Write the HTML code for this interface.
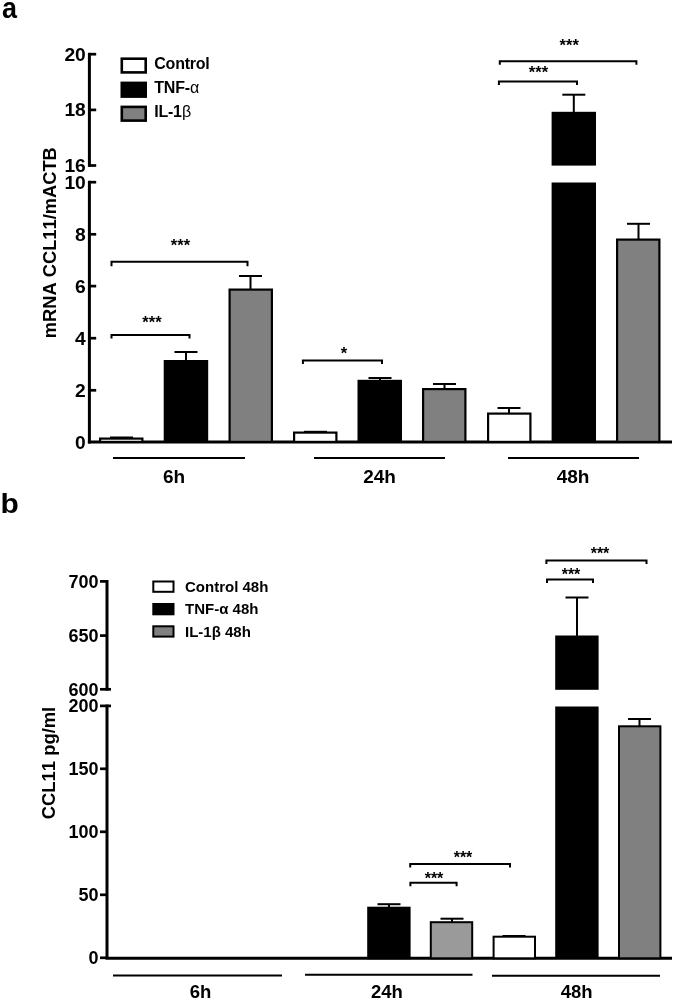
<!DOCTYPE html>
<html><head><meta charset="utf-8"><title>Figure</title>
<style>html,body{margin:0;padding:0;background:#fff;}svg{display:block;filter:grayscale(1) blur(0.3px);}text{font-kerning:none;}</style></head>
<body><svg width="675" height="1001" viewBox="0 0 675 1001">
<rect width="675" height="1001" fill="#fff"/>
<text transform="translate(2.0,18) scale(0.93,1)" font-size="29" font-family="Liberation Sans, sans-serif" font-weight="bold">a</text>
<line x1="89.4" y1="52.8" x2="89.4" y2="166.9" stroke="#000" stroke-width="3"/>
<line x1="89.4" y1="180.8" x2="89.4" y2="443.4" stroke="#000" stroke-width="3"/>
<line x1="89.4" y1="54.2" x2="96.2" y2="54.2" stroke="#000" stroke-width="2.7"/>
<text transform="translate(85.8,60.7) scale(1.07,1)" font-size="18" text-anchor="end" font-family="Liberation Sans, sans-serif" font-weight="bold">20</text>
<line x1="89.4" y1="109.9" x2="96.2" y2="109.9" stroke="#000" stroke-width="2.7"/>
<text transform="translate(85.8,116.4) scale(1.07,1)" font-size="18" text-anchor="end" font-family="Liberation Sans, sans-serif" font-weight="bold">18</text>
<line x1="89.4" y1="165.5" x2="96.2" y2="165.5" stroke="#000" stroke-width="2.7"/>
<text transform="translate(85.8,172.0) scale(1.07,1)" font-size="18" text-anchor="end" font-family="Liberation Sans, sans-serif" font-weight="bold">16</text>
<line x1="89.4" y1="182.2" x2="96.2" y2="182.2" stroke="#000" stroke-width="2.7"/>
<text transform="translate(85.8,188.7) scale(1.07,1)" font-size="18" text-anchor="end" font-family="Liberation Sans, sans-serif" font-weight="bold">10</text>
<line x1="89.4" y1="234.3" x2="96.2" y2="234.3" stroke="#000" stroke-width="2.7"/>
<text transform="translate(85.8,240.8) scale(1.07,1)" font-size="18" text-anchor="end" font-family="Liberation Sans, sans-serif" font-weight="bold">8</text>
<line x1="89.4" y1="286.1" x2="96.2" y2="286.1" stroke="#000" stroke-width="2.7"/>
<text transform="translate(85.8,292.6) scale(1.07,1)" font-size="18" text-anchor="end" font-family="Liberation Sans, sans-serif" font-weight="bold">6</text>
<line x1="89.4" y1="338.2" x2="96.2" y2="338.2" stroke="#000" stroke-width="2.7"/>
<text transform="translate(85.8,344.7) scale(1.07,1)" font-size="18" text-anchor="end" font-family="Liberation Sans, sans-serif" font-weight="bold">4</text>
<line x1="89.4" y1="390.3" x2="96.2" y2="390.3" stroke="#000" stroke-width="2.7"/>
<text transform="translate(85.8,396.8) scale(1.07,1)" font-size="18" text-anchor="end" font-family="Liberation Sans, sans-serif" font-weight="bold">2</text>
<text transform="translate(85.8,448.7) scale(1.07,1)" font-size="18" text-anchor="end" font-family="Liberation Sans, sans-serif" font-weight="bold">0</text>
<line x1="87.9" y1="442" x2="672" y2="442" stroke="#000" stroke-width="3"/>
<text transform="translate(56.2,242.7) rotate(-90)" font-size="18.3" text-anchor="middle" font-family="Liberation Sans, sans-serif" font-weight="bold">mRNA CCL11/mACTB</text>
<rect x="121.80" y="58.70" width="23.90" height="13.70" fill="#fff" stroke="#000" stroke-width="2.6"/>
<text x="154.3" y="69.0" font-size="16" style="letter-spacing:-0.25px" font-family="Liberation Sans, sans-serif" font-weight="bold">Control<tspan font-weight="normal" font-size="16" dx="0.2"></tspan></text>
<rect x="121.80" y="82.90" width="23.90" height="13.70" fill="#000" stroke="#000" stroke-width="2.6"/>
<text x="154.3" y="93.2" font-size="16" style="letter-spacing:-0.25px" font-family="Liberation Sans, sans-serif" font-weight="bold">TNF-<tspan font-weight="normal" font-size="16" dx="0.2">α</tspan></text>
<rect x="121.80" y="106.90" width="23.90" height="13.70" fill="#808080" stroke="#000" stroke-width="2.6"/>
<text x="154.3" y="117.2" font-size="16" style="letter-spacing:-0.25px" font-family="Liberation Sans, sans-serif" font-weight="bold">IL-1<tspan font-weight="normal" font-size="16" dx="0.2">β</tspan></text>
<line x1="186" y1="352" x2="186" y2="361" stroke="#000" stroke-width="2"/>
<line x1="174.5" y1="352" x2="197.5" y2="352" stroke="#000" stroke-width="2"/>
<line x1="250.5" y1="276" x2="250.5" y2="289.5" stroke="#000" stroke-width="2"/>
<line x1="239.0" y1="276" x2="262.0" y2="276" stroke="#000" stroke-width="2"/>
<line x1="380" y1="378" x2="380" y2="380.8" stroke="#000" stroke-width="2"/>
<line x1="368.5" y1="378" x2="391.5" y2="378" stroke="#000" stroke-width="2"/>
<line x1="444.5" y1="384" x2="444.5" y2="389" stroke="#000" stroke-width="2"/>
<line x1="433.0" y1="384" x2="456.0" y2="384" stroke="#000" stroke-width="2"/>
<line x1="509" y1="408" x2="509" y2="413.5" stroke="#000" stroke-width="2"/>
<line x1="497.5" y1="408" x2="520.5" y2="408" stroke="#000" stroke-width="2"/>
<line x1="121.5" y1="437.5" x2="121.5" y2="438.5" stroke="#000" stroke-width="2"/>
<line x1="110.0" y1="437.5" x2="133.0" y2="437.5" stroke="#000" stroke-width="2"/>
<line x1="315.5" y1="431.8" x2="315.5" y2="432.5" stroke="#000" stroke-width="2"/>
<line x1="304.0" y1="431.8" x2="327.0" y2="431.8" stroke="#000" stroke-width="2"/>
<line x1="573.8" y1="94.7" x2="573.8" y2="112" stroke="#000" stroke-width="2"/>
<line x1="562.3" y1="94.7" x2="585.3" y2="94.7" stroke="#000" stroke-width="2"/>
<line x1="638.5" y1="223.8" x2="638.5" y2="239.5" stroke="#000" stroke-width="2"/>
<line x1="627.0" y1="223.8" x2="650.0" y2="223.8" stroke="#000" stroke-width="2"/>
<rect x="100.10" y="438.60" width="42.30" height="3.30" fill="#fff" stroke="#000" stroke-width="2.2"/>
<rect x="164.80" y="361.10" width="42.30" height="80.80" fill="#000" stroke="#000" stroke-width="2.2"/>
<rect x="229.60" y="289.60" width="42.30" height="152.30" fill="#808080" stroke="#000" stroke-width="2.2"/>
<rect x="294.10" y="432.60" width="42.30" height="9.30" fill="#fff" stroke="#000" stroke-width="2.2"/>
<rect x="358.60" y="380.90" width="42.30" height="61.00" fill="#000" stroke="#000" stroke-width="2.2"/>
<rect x="423.10" y="389.10" width="42.30" height="52.80" fill="#808080" stroke="#000" stroke-width="2.2"/>
<rect x="488.10" y="413.60" width="42.30" height="28.30" fill="#fff" stroke="#000" stroke-width="2.2"/>
<rect x="617.10" y="239.60" width="42.30" height="202.30" fill="#808080" stroke="#000" stroke-width="2.2"/>
<rect x="551.6" y="111.8" width="44.4" height="53.8" fill="#000"/>
<rect x="551.6" y="182.5" width="44.4" height="260" fill="#000"/>
<path d="M499.8 64.8V61.3H636.4V64.8" fill="none" stroke="#000" stroke-width="2"/>
<text x="569.2" y="51.4" font-size="16.5" text-anchor="middle" font-family="Liberation Sans, sans-serif" font-weight="bold">***</text>
<path d="M498.9 84.9V81.4H577V84.9" fill="none" stroke="#000" stroke-width="2"/>
<text x="538.5" y="78.2" font-size="16.5" text-anchor="middle" font-family="Liberation Sans, sans-serif" font-weight="bold">***</text>
<path d="M111.5 266.2V261.7H247.5V266.2" fill="none" stroke="#000" stroke-width="2"/>
<text x="180.5" y="251.3" font-size="16.5" text-anchor="middle" font-family="Liberation Sans, sans-serif" font-weight="bold">***</text>
<path d="M111.5 338.5V335H189.5V338.5" fill="none" stroke="#000" stroke-width="2"/>
<text x="152" y="328" font-size="16.5" text-anchor="middle" font-family="Liberation Sans, sans-serif" font-weight="bold">***</text>
<path d="M302.9 364.0V360.5H382V364.0" fill="none" stroke="#000" stroke-width="2"/>
<text x="344" y="358.8" font-size="16.5" text-anchor="middle" font-family="Liberation Sans, sans-serif" font-weight="bold">*</text>
<line x1="113" y1="458" x2="245" y2="458" stroke="#000" stroke-width="2.1"/>
<text x="174" y="482.5" font-size="19" text-anchor="middle" font-family="Liberation Sans, sans-serif" font-weight="bold" >6h</text>
<line x1="314" y1="458" x2="445" y2="458" stroke="#000" stroke-width="2.1"/>
<text x="379.5" y="482.5" font-size="19" text-anchor="middle" font-family="Liberation Sans, sans-serif" font-weight="bold" >24h</text>
<line x1="508" y1="458" x2="639" y2="458" stroke="#000" stroke-width="2.1"/>
<text x="573" y="482.5" font-size="19" text-anchor="middle" font-family="Liberation Sans, sans-serif" font-weight="bold" >48h</text>
<text transform="translate(0.4,513) scale(1.07,1)" font-size="28" font-family="Liberation Sans, sans-serif" font-weight="bold">b</text>
<line x1="107" y1="580" x2="107" y2="690.6" stroke="#000" stroke-width="3"/>
<line x1="107" y1="704.6" x2="107" y2="959" stroke="#000" stroke-width="3"/>
<line x1="100" y1="581.4" x2="107" y2="581.4" stroke="#000" stroke-width="2.7"/>
<text x="98.5" y="587.9" font-size="18" text-anchor="end" font-family="Liberation Sans, sans-serif" font-weight="bold" >700</text>
<line x1="100" y1="635.6" x2="107" y2="635.6" stroke="#000" stroke-width="2.7"/>
<text x="98.5" y="642.1" font-size="18" text-anchor="end" font-family="Liberation Sans, sans-serif" font-weight="bold" >650</text>
<line x1="100" y1="689.3" x2="111" y2="689.3" stroke="#000" stroke-width="2.7"/>
<text x="98.5" y="695.8" font-size="18" text-anchor="end" font-family="Liberation Sans, sans-serif" font-weight="bold" >600</text>
<line x1="100" y1="705.9" x2="111" y2="705.9" stroke="#000" stroke-width="2.7"/>
<text x="98.5" y="712.1999999999999" font-size="18" text-anchor="end" font-family="Liberation Sans, sans-serif" font-weight="bold" >200</text>
<line x1="100" y1="768.8" x2="107" y2="768.8" stroke="#000" stroke-width="2.7"/>
<text x="98.5" y="775.0999999999999" font-size="18" text-anchor="end" font-family="Liberation Sans, sans-serif" font-weight="bold" >150</text>
<line x1="100" y1="831.8" x2="107" y2="831.8" stroke="#000" stroke-width="2.7"/>
<text x="98.5" y="838.0999999999999" font-size="18" text-anchor="end" font-family="Liberation Sans, sans-serif" font-weight="bold" >100</text>
<line x1="100" y1="894.8" x2="107" y2="894.8" stroke="#000" stroke-width="2.7"/>
<text x="98.5" y="901.0999999999999" font-size="18" text-anchor="end" font-family="Liberation Sans, sans-serif" font-weight="bold" >50</text>
<line x1="100" y1="957.8" x2="107" y2="957.8" stroke="#000" stroke-width="2.7"/>
<text x="98.5" y="964.0999999999999" font-size="18" text-anchor="end" font-family="Liberation Sans, sans-serif" font-weight="bold" >0</text>
<line x1="105.5" y1="958.3" x2="672" y2="958.3" stroke="#000" stroke-width="3"/>
<text transform="translate(54.8,763) rotate(-90)" font-size="18.4" text-anchor="middle" font-family="Liberation Sans, sans-serif" font-weight="bold">CCL11 pg/ml</text>
<rect x="153.30" y="581.50" width="20.20" height="10.30" fill="#fff" stroke="#000" stroke-width="2"/>
<text x="185" y="591.8" font-size="15" text-anchor="start" font-family="Liberation Sans, sans-serif" font-weight="bold" >Control 48h</text>
<rect x="153.30" y="604.00" width="20.20" height="10.30" fill="#000" stroke="#000" stroke-width="2"/>
<text x="185" y="614.3" font-size="15" text-anchor="start" font-family="Liberation Sans, sans-serif" font-weight="bold" >TNF-α 48h</text>
<rect x="153.30" y="626.30" width="20.20" height="10.30" fill="#808080" stroke="#000" stroke-width="2"/>
<text x="185" y="636.5999999999999" font-size="15" text-anchor="start" font-family="Liberation Sans, sans-serif" font-weight="bold" >IL-1β 48h</text>
<line x1="389" y1="904.2" x2="389" y2="907.7" stroke="#000" stroke-width="2"/>
<line x1="377.5" y1="904.2" x2="400.5" y2="904.2" stroke="#000" stroke-width="2"/>
<line x1="452" y1="918.7" x2="452" y2="922.2" stroke="#000" stroke-width="2"/>
<line x1="440.5" y1="918.7" x2="463.5" y2="918.7" stroke="#000" stroke-width="2"/>
<line x1="514" y1="936" x2="514" y2="936.7" stroke="#000" stroke-width="2"/>
<line x1="502.5" y1="936" x2="525.5" y2="936" stroke="#000" stroke-width="2"/>
<line x1="577" y1="597.5" x2="577" y2="636" stroke="#000" stroke-width="2"/>
<line x1="565.5" y1="597.5" x2="588.5" y2="597.5" stroke="#000" stroke-width="2"/>
<line x1="639.5" y1="719" x2="639.5" y2="726.3" stroke="#000" stroke-width="2"/>
<line x1="628.0" y1="719" x2="651.0" y2="719" stroke="#000" stroke-width="2"/>
<rect x="368.20" y="907.70" width="41.40" height="50.60" fill="#000" stroke="#000" stroke-width="2.0"/>
<rect x="430.80" y="922.20" width="41.40" height="36.10" fill="#9a9a9a" stroke="#000" stroke-width="2.0"/>
<rect x="493.60" y="936.70" width="41.40" height="21.60" fill="#fff" stroke="#000" stroke-width="2.0"/>
<rect x="619.00" y="726.30" width="41.40" height="232.00" fill="#808080" stroke="#000" stroke-width="2.0"/>
<rect x="555.2" y="635.5" width="43.4" height="54.3" fill="#000"/>
<rect x="555.2" y="706.5" width="43.4" height="252" fill="#000"/>
<path d="M546.4 564.1V560.6H646.5V564.1" fill="none" stroke="#000" stroke-width="2"/>
<text x="600" y="559" font-size="16" text-anchor="middle" font-family="Liberation Sans, sans-serif" font-weight="bold">***</text>
<path d="M547 583.1V579.6H593V583.1" fill="none" stroke="#000" stroke-width="2"/>
<text x="571" y="580.3" font-size="16" text-anchor="middle" font-family="Liberation Sans, sans-serif" font-weight="bold">***</text>
<path d="M410.2 867.5V864H510V867.5" fill="none" stroke="#000" stroke-width="2"/>
<text x="463" y="862.6" font-size="16" text-anchor="middle" font-family="Liberation Sans, sans-serif" font-weight="bold">***</text>
<path d="M410.4 886.3V882.8H456.6V886.3" fill="none" stroke="#000" stroke-width="2"/>
<text x="434" y="883.8" font-size="16" text-anchor="middle" font-family="Liberation Sans, sans-serif" font-weight="bold">***</text>
<line x1="113" y1="975.5" x2="282" y2="975.5" stroke="#000" stroke-width="2.1"/>
<text x="200.5" y="998.2" font-size="18.5" text-anchor="middle" font-family="Liberation Sans, sans-serif" font-weight="bold" >6h</text>
<line x1="305" y1="974.7" x2="472.5" y2="974.7" stroke="#000" stroke-width="2.1"/>
<text x="386.9" y="998.2" font-size="18.5" text-anchor="middle" font-family="Liberation Sans, sans-serif" font-weight="bold" >24h</text>
<line x1="492" y1="975.7" x2="660" y2="975.7" stroke="#000" stroke-width="2.1"/>
<text x="576.6" y="998.2" font-size="18.5" text-anchor="middle" font-family="Liberation Sans, sans-serif" font-weight="bold" >48h</text>
</svg></body></html>
